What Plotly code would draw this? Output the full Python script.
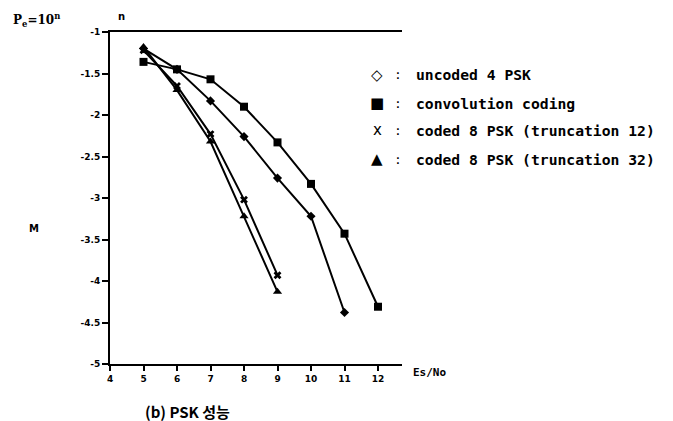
import plotly.graph_objects as go

# ---- data ----
uncoded_x = [5, 6, 7, 8, 9, 10, 11]
uncoded_y = [-1.20, -1.45, -1.83, -2.26, -2.76, -3.22, -4.38]
conv_x = [5, 6, 7, 8, 9, 10, 11, 12]
conv_y = [-1.36, -1.45, -1.57, -1.90, -2.33, -2.83, -3.43, -4.31]
t12_x = [5, 6, 7, 8, 9]
t12_y = [-1.22, -1.65, -2.23, -3.02, -3.93]
t32_x = [5, 6, 7, 8, 9]
t32_y = [-1.18, -1.70, -2.32, -3.22, -4.13]

x_ticks = [4, 5, 6, 7, 8, 9, 10, 11, 12]
y_ticks = [-1, -1.5, -2, -2.5, -3, -3.5, -4, -4.5, -5]
y_ticktext = ["-1", "-1.5", "-2", "-2.5", "-3", "-3.5", "-4", "-4.5", "-5"]

legend_glyphs = ["◇", "■", "x", "▲"]
legend_labels = ["uncoded 4 PSK", "convolution coding",
                 "coded 8 PSK (truncation 12)", "coded 8 PSK (truncation 32)"]

# ---- layout geometry (pixels in the 673x421 window; page body has an 8px margin) ----
OFF = 8
W, H = 673 - OFF, 421 - OFF
L, R, T, B = 110 - OFF, 402 - OFF, 32 - OFF, 364 - OFF


def px(xp, yp):
    xp -= OFF
    yp -= OFF
    return (xp - L) / (R - L), (B - yp) / (B - T)


fig = go.Figure()
line = dict(color="black", width=2)
fig.add_trace(go.Scatter(x=uncoded_x, y=uncoded_y, mode="lines+markers", line=line,
                         marker=dict(symbol="diamond", size=7, color="black")))
fig.add_trace(go.Scatter(x=conv_x, y=conv_y, mode="lines+markers", line=line,
                         marker=dict(symbol="square", size=8, color="black")))
fig.add_trace(go.Scatter(x=t12_x, y=t12_y, mode="lines+markers", line=line,
                         marker=dict(symbol="x", size=7, color="black")))
fig.add_trace(go.Scatter(x=t32_x, y=t32_y, mode="lines+markers", line=line,
                         marker=dict(symbol="triangle-up", size=8, color="black")))

annos = []
legend_rows = [75, 103, 130, 159]
for g, lab, yp in zip(legend_glyphs, legend_labels, legend_rows):
    xg, yg = px(377, yp)
    annos.append(dict(x=xg, y=yg, xref="paper", yref="paper", text=g, showarrow=False,
                      font=dict(family="DejaVu Sans", size=15, color="black"),
                      xanchor="center", yanchor="middle"))
    xc, _ = px(398, yp)
    annos.append(dict(x=xc, y=yg, xref="paper", yref="paper", text=":", showarrow=False,
                      font=dict(family="DejaVu Sans Mono", size=13, color="black"),
                      xanchor="center", yanchor="middle"))
    xt, _ = px(414, yp)
    annos.append(dict(x=xt, y=yg, xref="paper", yref="paper", text=lab, showarrow=False,
                      font=dict(family="DejaVu Sans Mono", size=14.7, color="black",
                                weight="bold"),
                      xanchor="left", yanchor="middle"))

for txt, xp, yp, fam, sz in [
    ("P<sub>e</sub>=10<sup>n</sup>", 36, 20, "DejaVu Serif", 12),
    ("n", 121, 16, "DejaVu Sans", 10),
    ("M", 34, 228, "DejaVu Sans", 10),
    ("Es/No", 429, 373, "DejaVu Sans Mono", 11),
    ("(b) PSK 성능", 187, 411, "Noto Sans CJK KR", 15),
]:
    xx, yy = px(xp, yp)
    annos.append(dict(x=xx, y=yy, xref="paper", yref="paper", text=txt, showarrow=False,
                      font=dict(family=fam, size=sz, color="black", weight="bold"),
                      xanchor="center", yanchor="middle"))

fig.update_layout(
    width=W, height=H,
    margin=dict(l=L, r=W - R, t=T, b=H - B, pad=0),
    paper_bgcolor="white", plot_bgcolor="white",
    showlegend=False,
    annotations=annos,
    font=dict(family="DejaVu Sans", color="black"),
)
fig.update_xaxes(range=[4, 4 + (R - L) / 33.5], tickvals=x_ticks, ticks="outside",
                 ticklen=5, tickwidth=2, tickcolor="black", showline=True, linewidth=2,
                 linecolor="black", mirror=True, showgrid=False, zeroline=False,
                 tickfont=dict(family="DejaVu Sans", size=9, color="black", weight="bold"))
fig.update_yaxes(range=[-5, -1], tickvals=y_ticks, ticktext=y_ticktext, ticks="outside",
                 ticklen=6, tickwidth=2, tickcolor="black", showline=True, linewidth=2,
                 linecolor="black", showgrid=False, zeroline=False,
                 tickfont=dict(family="DejaVu Sans", size=9, color="black", weight="bold"))

fig.write_html("out.html")
